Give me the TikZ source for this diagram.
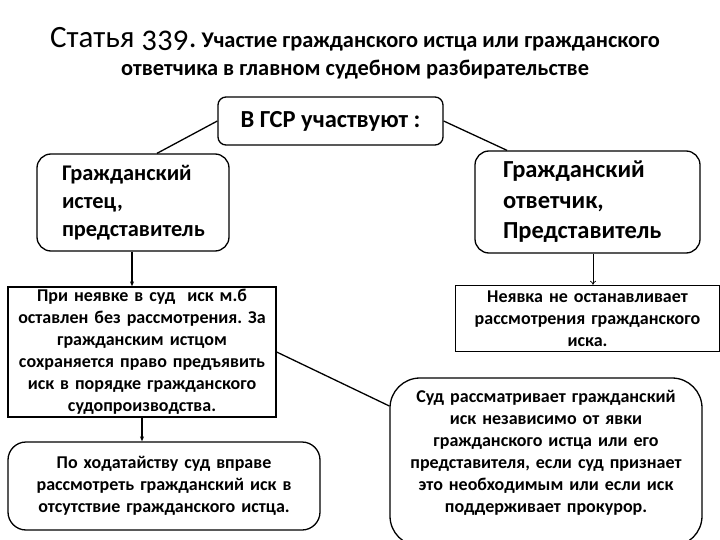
\documentclass[tikz,border=0pt]{standalone}
\usepackage{fontspec}
\setmainfont{Carlito}
\usetikzlibrary{arrows.meta}
\begin{document}
\frenchspacing
\begin{tikzpicture}[x=1pt, y=-1pt, line width=1.3pt,
    every node/.style={draw, font=\bfseries, inner ysep=0pt},
    roundbox/.style={rounded corners=14pt},
    plainbox/.style={font=\bfseries\fontsize{18}{22}\selectfont, align=center}]
    \clip (0,0) rectangle (720,540);
    % title
    \node[draw=none, align=center, font=\bfseries\fontsize{22.4}{28}\selectfont] (title) at (355,53)
        {{\mdseries\fontsize{31}{28}\selectfont\addfontfeature{Numbers=OldStyle}Статья 339.} Участие гражданского истца или гражданского\\ответчика в главном судебном разбирательстве};

    \node (gsr) [rounded corners=8pt, minimum width=225pt, minimum height=48pt, font=\bfseries\fontsize{24.5}{28}\selectfont] at (330.5,121) {В ГСР участвуют :};
    \node (istec) [roundbox, inner xsep=25pt, text width=142pt, align=left, minimum height=97pt, font=\bfseries\fontsize{22.4}{28}\selectfont] at (133,202.5)
        {Гражданский\\истец,\\представитель};
    \node (otv) [roundbox, inner xsep=28pt, text width=169pt, align=left, minimum height=102pt, font=\bfseries\fontsize{24.5}{30.5}\selectfont] at (587.5,202)
        {Гражданский\\ответчик,\\Представитель};

    \node (nonshow) [plainbox, text width=262pt, inner xsep=3pt, minimum height=130pt] at (142,352)
        {При неявке в суд\ \ иск м.б\\оставлен без рассмотрения. За\\гражданским истцом\\сохраняется право предъявить\\иск в порядке гражданского\\судопроизводства.};
    \node (petition) [plainbox, rounded corners=18pt, text width=300pt, inner xsep=6pt, minimum height=88pt] at (164,486)
        {По ходатайству суд вправе\\рассмотреть гражданский иск в\\отсутствие гражданского истца.};
    \node (nostop) [plainbox, text width=256pt, inner xsep=4pt, minimum height=66pt] at (587.5,318.5)
        {Неявка не останавливает\\рассмотрения гражданского\\иска.};
    \node (court) [plainbox, rounded corners=30pt, text width=300pt, inner xsep=6pt, minimum height=168pt] at (546,462)
        {Суд рассматривает гражданский\\иск независимо от явки\\гражданского истца или его\\представителя, если суд признает\\это необходимым или если иск\\поддерживает прокурор.\\[0pt]\mbox{}};

    \draw (gsr.west) -- (istec.north -| 157,0);
    \draw (gsr.east) -- (otv.north -| 507,0);
    \draw[-{Stealth[length=5pt,width=4pt]}] (istec.south -| 132,0) -- (nonshow.north -| 132,0);
    \draw[-{Stealth[length=5pt,width=4pt]}] (nonshow.south -| 142,0) -- (petition.north -| 142,0);
    \draw[line width=0.7pt, -{To[length=4pt,width=6pt]}] (otv.south -| 593,0) -- (nostop.north -| 593,0);
    \draw (nonshow.east |- 0,352) -- (court.west |- 0,406);
\end{tikzpicture}
\end{document}
